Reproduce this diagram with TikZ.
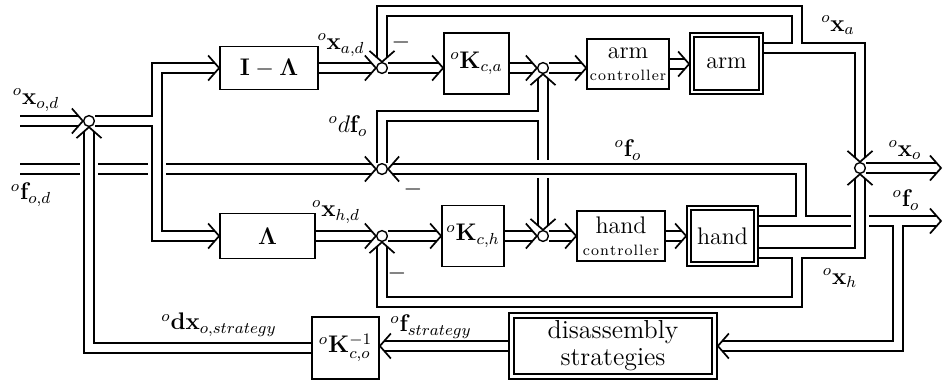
\documentclass[tikz,border=0pt]{standalone}
\usepackage{amsmath}
\usetikzlibrary{arrows.meta,calc,decorations.markings}
\newcommand\spc{\kern0.55pt}
\newcommand\ctrlword{{\fontsize{7.5}{9}\selectfont c\spc o\spc n\spc t\spc r\spc o\spc l\spc l\spc e\spc r}}
\begin{document}
\begin{tikzpicture}[x=0.5pt,y=-0.5pt,
  vec/.style={double, double distance=4.2pt, line width=0.85pt, line join=miter},
  chev/.style={line width=0.85pt, shorten >=0pt, shorten <=0pt, line join=miter, miter limit=3},
  arr/.style={vec, shorten >=2.3pt, postaction={decorate, decoration={markings,
      mark=at position 1 with {\draw[chev] (-5.5pt,6.25pt) -- (0pt,0pt) -- (-5.5pt,-6.25pt);}}}},
  blk/.style={draw, line width=0.85pt, inner sep=0pt, font=\fontsize{12}{14}\selectfont, align=center},
  sj/.style={draw, circle, line width=0.7pt, minimum size=5.4pt, inner sep=0pt, fill=white},
  lbl/.style={inner sep=0pt, font=\fontsize{12}{14}\selectfont},
  gap/.style={draw=white, line width=9pt}
]
\useasboundingbox (0,0) rectangle (943,382);

% blocks
\node[blk, minimum width=49pt, minimum height=21.5pt] (IL) at (269,68) {$\mathbf{I}-\mathbf{\Lambda}$};
\node[blk, minimum width=47.5pt, minimum height=22.5pt] (Lam) at (267.5,236) {$\mathbf{\Lambda}$};
\node[blk, minimum width=32.5pt, minimum height=30.5pt] (Kca) at (476.5,63.5) {$^{o}\mathbf{K}_{c,a}$};
\node[blk, minimum width=31pt, minimum height=30.5pt] (Kch) at (473,236) {$^{o}\mathbf{K}_{c,h}$};
\node[blk, minimum width=41pt, minimum height=25pt] (armc) at (628,64) {arm\\[-3pt]\ctrlword};
\node[blk, minimum width=44pt, minimum height=25pt] (hctrl) at (621,236) {hand\\[-3pt]\ctrlword};
\node[blk, minimum width=36.5pt, minimum height=30.5pt] (arm) at (726.5,63.5) {arm};
\node[blk, minimum width=35.5pt, minimum height=30pt] (hand) at (722.5,236) {hand};
\node[blk, minimum width=33.5pt, minimum height=31pt] (Kinv) at (345.5,348) {$^{o}\mathbf{K}^{-1}_{c,o}$};
\node[blk, minimum width=104pt, minimum height=33pt, font=\fontsize{13}{13.5}\selectfont] (dis) at (613,346) {disassembly\\strategies};
\draw[line width=0.85pt] ([shift={(2.5pt,2.5pt)}]arm.south west) rectangle ([shift={(-2.5pt,-2.5pt)}]arm.north east);
\draw[line width=0.85pt] ([shift={(2.5pt,2.5pt)}]hand.south west) rectangle ([shift={(-2.5pt,-2.5pt)}]hand.north east);
\draw[line width=0.85pt] ([shift={(3pt,3pt)}]dis.south west) rectangle ([shift={(-3pt,-3pt)}]dis.north east);

% summing junctions
\node[sj] (J0) at (89,121) {};
\node[sj] (J1) at (382,68) {};
\node[sj] (J2) at (543,68) {};
\node[sj] (J3) at (382,236) {};
\node[sj] (J4) at (543,236) {};
\node[sj] (J5) at (382,169) {};
\node[sj] (J6) at (860,168) {};

% free ends
\coordinate (in1) at (20,121);
\coordinate (in2) at (20,169);
\coordinate (out1) at (941,168);
\coordinate (out2) at (941,221);

% under paths
\draw[arr] (in2) -- (J5);
\draw[vec] (J5) -- (382,116) -- (543,116) -- (543,90) (543,116) -- (543,210);
\draw[arr] (543,100) -- (J2);
\draw[arr] (543,200) -- (J4);

% gaps
\draw[gap] (89,160) -- (89,178);
\draw[gap] (157,160) -- (157,178);
\draw[gap] (534,169) -- (552,169);

% over paths
\draw[arr] (Kinv.west) -- (89,348) -- (J0);
\draw[arr] (in1) -- (J0);
\draw[vec] (J0) -- (157,121) -- (157,68) -- (200,68) (157,121) -- (157,236) -- (200,236);
\draw[arr] (190,68) -- (IL);
\draw[arr] (190,236) -- (Lam);

\draw[vec] ([yshift=7.5pt]hand.east) -- (898,221) -- (898,346) -- (740,346) (801,221) -- (801,169) -- (420,169) (898,221) -- (930,221);
\draw[arr] (750,346) -- (dis.east);
\draw[arr] (430,169) -- (J5);
\draw[arr] (920,221) -- (out2);

\draw[gap] (860,212) -- (860,230);
\draw[vec] ([yshift=-8.5pt]hand.east) -- (860,253) -- (860,190) (797,253) -- (797,302) -- (382,302) -- (382,260);
\draw[arr] (860,200) -- (J6);
\draw[arr] (382,270) -- (J3);

\draw[vec] ([yshift=7.75pt]arm.east) -- (860,48) -- (860,150) (797,48) -- (797,11) -- (382,11) -- (382,50);
\draw[arr] (860,140) -- (J6);
\draw[arr] (382,40) -- (J1);

% main rows
\draw[arr] (IL) -- (J1);
\draw[arr] (J1) -- (J1 -| Kca.west);
\draw[arr] (Kca.east |- J2) -- (J2);
\draw[arr] (J2) -- (J2 -| armc.west);
\draw[arr] (armc.east) -- (armc.east -| arm.west);
\draw[arr] (Lam) -- (J3);
\draw[arr] (J3) -- (Kch);
\draw[arr] (Kch) -- (J4);
\draw[arr] (J4) -- (hctrl);
\draw[arr] (hctrl) -- (hand);
\draw[arr] (J6) -- (out1);
\draw[arr] (dis.west) -- (dis.west -| Kinv.east);

% labels
\node[lbl] (lxod) at (36,100) {$^{o}\mathbf{x}_{o,d}$};
\node[lbl] (lfod) at (31,195) {$^{o}\mathbf{f}_{o,d}$};
\node[lbl] (lxad) at (341,45) {$^{o}\mathbf{x}_{a,d}$};
\node[lbl] (ldfo) at (348,126) {$^{o}d\mathbf{f}_{o}$};
\node[lbl] (lfo1) at (628,150) {$^{o}\mathbf{f}_{o}$};
\node[lbl] (lxa) at (838,25) {$^{o}\mathbf{x}_{a}$};
\node[lbl] (lxo) at (905,150) {$^{o}\mathbf{x}_{o}$};
\node[lbl] (lfo2) at (906,200) {$^{o}\mathbf{f}_{o}$};
\node[lbl] (lxhd) at (336,212) {$^{o}\mathbf{x}_{h,d}$};
\node[lbl] (lxh) at (840,278) {$^{o}\mathbf{x}_{h}$};
\node[lbl] (ldxs) at (219,325) {$^{o}\mathbf{dx}_{o,strategy}$};
\node[lbl] (lfs) at (431,327) {$^{o}\mathbf{f}_{strategy}$};
\node[lbl] (m1) at (401,42) {$-$};
\node[lbl] (m2) at (413,189) {$-$};
\node[lbl] (m3) at (397,273) {$-$};
\end{tikzpicture}
\end{document}
